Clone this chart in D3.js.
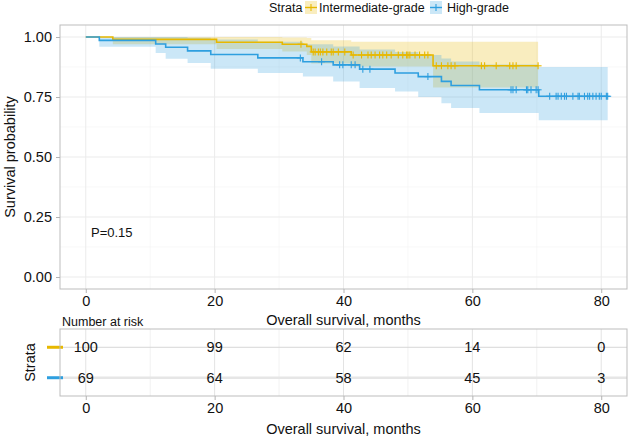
<!DOCTYPE html>
<html>
<head>
<meta charset="utf-8">
<script src="https://cdn.jsdelivr.net/npm/d3@7"></script>
<style>
	body { margin: 0; background: #fff; }
	svg { display: block; font-family: "Liberation Sans", Arial, Helvetica, sans-serif; }
</style>
</head>
<body>
<div id="chart"></div>
<script>
// Kaplan-Meier steps
const interTime = [0, 4.2, 20.3, 30.5, 34.3, 35.0, 41.2, 53.9, 70.2];
const interSurv = [1, 0.99, 0.978, 0.97, 0.961, 0.938, 0.925, 0.88, 0.88];
const interLower = [1, 0.97, 0.95, 0.94, 0.925, 0.89, 0.877, 0.79, 0.79];
const interUpper = [1, 1, 1, 0.998, 0.996, 0.986, 0.98, 0.98, 0.98];
const interCensor = [33.4, 35.3, 35.6, 36.1, 36.4, 36.8, 37.4, 38.1, 38.4, 39.2, 40.2,
	41.5, 42.8, 43.8, 44.3, 44.9, 45.6, 46.1, 46.7, 47.4, 48.5, 49.2, 49.8, 50.0, 50.3,
	51.1, 51.8, 52.6, 53.1, 54.4, 55.2, 56.2, 56.7, 57.3, 61.4, 61.9, 63.7, 65.8, 66.3,
	66.8, 70.2];

const highTime = [0, 2.1, 10.85, 12.4, 15.8, 19.4, 26.7, 33.7, 38.4, 42.5, 48.0, 51.6, 55.2, 56.7, 61.1, 70.3, 81.0];
const highSurv = [1, 0.986, 0.971, 0.957, 0.942, 0.927, 0.913, 0.897, 0.884, 0.866, 0.85, 0.835, 0.815, 0.798, 0.78, 0.753, 0.753];
const highLower = [1, 0.959, 0.933, 0.909, 0.892, 0.868, 0.85, 0.835, 0.815, 0.788, 0.773, 0.75, 0.724, 0.704, 0.683, 0.653, 0.653];
const highUpper = [1, 1, 1, 1, 0.997, 0.99, 0.98, 0.97, 0.96, 0.948, 0.937, 0.925, 0.91, 0.898, 0.885, 0.875, 0.875];
const highCensor = [33.3, 36.6, 39.4, 39.9, 41.2, 41.8, 43.0, 44.1, 53.1, 66.0, 66.3, 66.8,
	68.4, 68.6, 69.1, 69.9, 70.2, 72.0, 73.0, 73.3, 73.8, 74.3, 74.6, 75.6, 76.4, 76.6,
	77.4, 77.9, 78.2, 78.7, 79.2, 79.7, 80.0, 80.8, 81.0];

// Risk table
const riskTimes = [0, 20, 40, 60, 80];
const riskInter = [100, 99, 62, 14, 0];
const riskHigh = [69, 64, 58, 45, 3];

const strataNames = ["Intermediate-grade", "High-grade"];
const xTicks = [0, 20, 40, 60, 80];
const yTicks = [0, 0.25, 0.5, 0.75, 1];
const pLabel = "P=0.15";

const colors = { "Intermediate-grade": "#E7B800", "High-grade": "#2E9FDF" };

const W = 631, H = 438;
const panel = { left: 60, right: 627, top: 25, bottom: 289 };
const risk = { top: 329, bottom: 396 };

const svg = d3.select("#chart").append("svg").attr("width", W).attr("height", H);

const x = d3.scaleLinear().domain([-4, 84]).range([panel.left, panel.right]);
const y = d3.scaleLinear().domain([-0.05, 1.05]).range([panel.bottom, panel.top]);

const groups = [
	{ name: "Intermediate-grade", time: interTime, surv: interSurv, lower: interLower, upper: interUpper, censor: interCensor },
	{ name: "High-grade", time: highTime, surv: highSurv, lower: highLower, upper: highUpper, censor: highCensor },
].map((g) => ({
	...g,
	pts: g.time.map((t, i) => ({ t, s: g.surv[i], lo: g.lower[i], hi: g.upper[i] })),
}));

function survAt(g, t) {
	let s = g.surv[0];
	g.time.forEach((tt, i) => { if (tt <= t) s = g.surv[i]; });
	return s;
}

// --- main panel grid
const grid = svg.append("g");
[10, 30, 50, 70].forEach((v) => {
	grid.append("line").attr("x1", x(v)).attr("x2", x(v)).attr("y1", panel.top).attr("y2", panel.bottom)
		.attr("stroke", "#f3f3f3").attr("stroke-width", 0.6);
});
[0.125, 0.375, 0.625, 0.875].forEach((v) => {
	grid.append("line").attr("y1", y(v)).attr("y2", y(v)).attr("x1", panel.left).attr("x2", panel.right)
		.attr("stroke", "#f3f3f3").attr("stroke-width", 0.6);
});
xTicks.forEach((v) => {
	grid.append("line").attr("x1", x(v)).attr("x2", x(v)).attr("y1", panel.top).attr("y2", panel.bottom)
		.attr("stroke", "#ebebeb").attr("stroke-width", 1);
});
yTicks.forEach((v) => {
	grid.append("line").attr("y1", y(v)).attr("y2", y(v)).attr("x1", panel.left).attr("x2", panel.right)
		.attr("stroke", "#ebebeb").attr("stroke-width", 1);
});

// --- bands and curves
const area = d3.area().curve(d3.curveStepAfter)
	.x((d) => x(d.t)).y0((d) => y(d.lo)).y1((d) => y(d.hi));
const line = d3.line().curve(d3.curveStepAfter)
	.x((d) => x(d.t)).y((d) => y(d.s));

svg.append("g").selectAll("path").data(groups).join("path")
	.attr("d", (d) => area(d.pts))
	.attr("fill", (d) => colors[d.name])
	.attr("fill-opacity", 0.25);

svg.append("g").selectAll("path").data(groups).join("path")
	.attr("d", (d) => line(d.pts))
	.attr("fill", "none")
	.attr("stroke", (d) => colors[d.name])
	.attr("stroke-width", 1.6);

groups.forEach((g) => {
	const cg = svg.append("g").attr("stroke", colors[g.name]).attr("stroke-width", 1.1);
	g.censor.forEach((t) => {
		const cx = x(t), cy = y(survAt(g, t));
		cg.append("line").attr("x1", cx).attr("x2", cx).attr("y1", cy - 3.5).attr("y2", cy + 3.5);
		cg.append("line").attr("x1", cx - 3.5).attr("x2", cx + 3.5).attr("y1", cy).attr("y2", cy);
	});
});

// panel border
svg.append("rect").attr("x", panel.left).attr("y", panel.top)
	.attr("width", panel.right - panel.left).attr("height", panel.bottom - panel.top)
	.attr("fill", "none").attr("stroke", "#bdbdbd").attr("stroke-width", 1);

// axes
const yAxis = svg.append("g").attr("transform", `translate(${panel.left},0)`)
	.call(d3.axisLeft(y).tickValues(yTicks).tickFormat(d3.format(".2f")).tickSize(4).tickPadding(4));
const xAxis = svg.append("g").attr("transform", `translate(0,${panel.bottom})`)
	.call(d3.axisBottom(x).tickValues(xTicks).tickSize(4).tickPadding(3));
[yAxis, xAxis].forEach((a) => {
	a.select(".domain").remove();
	a.selectAll("line").attr("stroke", "#b3b3b3");
	a.selectAll("text").attr("font-size", 14.5).attr("fill", "#111").attr("font-family", null);
});

svg.append("text")
	.attr("transform", `translate(15,${(panel.top + panel.bottom) / 2}) rotate(-90)`)
	.attr("text-anchor", "middle").attr("font-size", 14.5).attr("fill", "#111")
	.text("Survival probability");

svg.append("text").attr("x", (panel.left + panel.right) / 2).attr("y", 325)
	.attr("text-anchor", "middle").attr("font-size", 14.5).attr("fill", "#111")
	.text("Overall survival, months");

svg.append("text").attr("x", 91).attr("y", 237)
	.attr("font-size", 13).attr("fill", "#111").text(pLabel);

// --- legend
const lg = svg.append("g");
lg.append("text").attr("x", 269).attr("y", 11.5).attr("font-size", 12.5).attr("fill", "#111").text("Strata");
const legendPos = [{ kx: 305, tx: 319 }, { kx: 430, tx: 447 }];
strataNames.forEach((name, i) => {
	const p = legendPos[i];
	lg.append("rect").attr("x", p.kx).attr("y", 1).attr("width", 12).attr("height", 13)
		.attr("fill", colors[name]).attr("fill-opacity", 0.25);
	lg.append("line").attr("x1", p.kx).attr("x2", p.kx + 12).attr("y1", 7.5).attr("y2", 7.5)
		.attr("stroke", colors[name]).attr("stroke-width", 1.4);
	lg.append("line").attr("x1", p.kx + 6).attr("x2", p.kx + 6).attr("y1", 4).attr("y2", 11)
		.attr("stroke", colors[name]).attr("stroke-width", 1.1);
	lg.append("text").attr("x", p.tx).attr("y", 11.5).attr("font-size", 12.5).attr("fill", "#111").text(name);
});

// --- risk table
svg.append("text").attr("x", 62).attr("y", 326).attr("font-size", 12.5).attr("fill", "#111")
	.text("Number at risk");

const ry = d3.scalePoint().domain(strataNames).range([risk.top, risk.bottom]).padding(0.6);

const rg = svg.append("g");
[10, 30, 50, 70].forEach((v) => {
	rg.append("line").attr("x1", x(v)).attr("x2", x(v)).attr("y1", risk.top).attr("y2", risk.bottom)
		.attr("stroke", "#eeeeee").attr("stroke-width", 0.8);
});
xTicks.forEach((v) => {
	rg.append("line").attr("x1", x(v)).attr("x2", x(v)).attr("y1", risk.top).attr("y2", risk.bottom)
		.attr("stroke", "#e3e3e3").attr("stroke-width", 1);
});
rg.append("line").attr("x1", panel.left).attr("x2", panel.right)
	.attr("y1", ry(strataNames[0])).attr("y2", ry(strataNames[0]))
	.attr("stroke", "#d6d6d6").attr("stroke-width", 1);
rg.append("line").attr("x1", panel.left).attr("x2", panel.right)
	.attr("y1", ry(strataNames[1])).attr("y2", ry(strataNames[1]))
	.attr("stroke", "#e6e6e6").attr("stroke-width", 2.5);

const riskRows = [
	{ name: strataNames[0], vals: riskInter },
	{ name: strataNames[1], vals: riskHigh },
];
riskRows.forEach((r) => {
	r.vals.forEach((v, i) => {
		svg.append("text").attr("x", x(riskTimes[i])).attr("y", ry(r.name) + 5)
			.attr("text-anchor", "middle").attr("font-size", 14.5).attr("fill", "#111").text(v);
	});
	svg.append("line").attr("x1", 47).attr("x2", 63).attr("y1", ry(r.name)).attr("y2", ry(r.name))
		.attr("stroke", colors[r.name]).attr("stroke-width", 3);
});

svg.append("rect").attr("x", panel.left).attr("y", risk.top)
	.attr("width", panel.right - panel.left).attr("height", risk.bottom - risk.top)
	.attr("fill", "none").attr("stroke", "#bdbdbd").attr("stroke-width", 1);

const rAxis = svg.append("g").attr("transform", `translate(0,${risk.bottom})`)
	.call(d3.axisBottom(x).tickValues(xTicks).tickSize(4).tickPadding(3));
rAxis.select(".domain").remove();
rAxis.selectAll("line").attr("stroke", "#b3b3b3");
rAxis.selectAll("text").attr("font-size", 14.5).attr("fill", "#111").attr("font-family", null);

svg.append("text")
	.attr("transform", `translate(35,${(risk.top + risk.bottom) / 2}) rotate(-90)`)
	.attr("text-anchor", "middle").attr("font-size", 14.5).attr("fill", "#111").text("Strata");

svg.append("text").attr("x", (panel.left + panel.right) / 2).attr("y", 434)
	.attr("text-anchor", "middle").attr("font-size", 14.5).attr("fill", "#111")
	.text("Overall survival, months");
</script>
</body>
</html>
